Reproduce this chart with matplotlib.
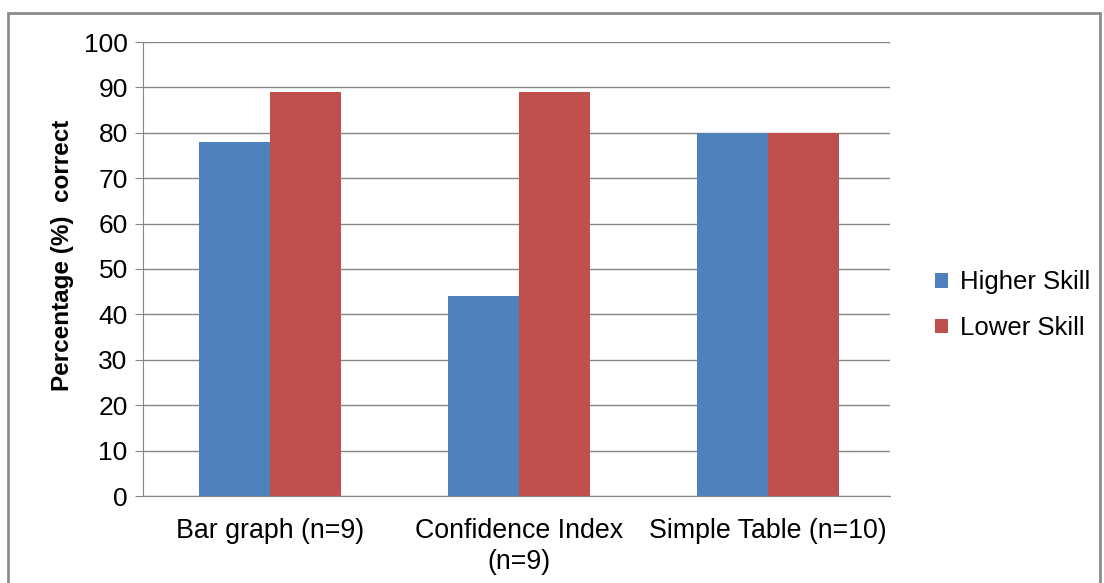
import numpy as np
import matplotlib.pyplot as plt
from matplotlib.patches import Rectangle

categories = ['Bar graph (n=9)', 'Confidence Index\n(n=9)', 'Simple Table (n=10)']
higher_skill = [78, 44, 80]
lower_skill = [89, 89, 80]
yticks = [0, 10, 20, 30, 40, 50, 60, 70, 80, 90, 100]

plt.rcParams['font.family'] = ['Liberation Sans', 'DejaVu Sans']

fig = plt.figure(figsize=(11.04, 5.83), dpi=100)
ax = fig.add_axes([143/1104, 1-496/583, (890-143)/1104, (496-42)/583])

# grey frame round the whole chart
fig.patches.append(Rectangle((8/1104, -0.05), (1100-8)/1104, 1-13/583+0.05,
                             transform=fig.transFigure, fill=False,
                             edgecolor='#8c8c8c', linewidth=2))

x = np.arange(len(categories))
w = 0.285
ax.bar(x - w/2, higher_skill, w, color='#4F81BD', label='Higher Skill', zorder=3)
ax.bar(x + w/2, lower_skill, w, color='#C0504D', label='Lower Skill', zorder=3)

ax.set_xlim(-0.51, 2.49)
ax.set_ylim(0, 100)
ax.set_yticks(yticks)
ax.yaxis.grid(True, color='#868686', linewidth=1, zorder=0)
ax.set_axisbelow(True)
for s in ['top', 'right']:
    ax.spines[s].set_visible(False)
ax.spines['left'].set_color('#868686')
ax.spines['bottom'].set_color('#868686')
ax.tick_params(axis='y', length=6, color='#868686', labelsize=19, pad=5)
ax.tick_params(axis='x', length=0, labelsize=19.3, pad=16)
ax.set_xticks(x)
ax.set_xticklabels(categories, linespacing=1.25)
ax.set_ylabel('Percentage (%)  correct', fontsize=17.5, fontweight='bold')
ax.yaxis.set_label_coords(-0.092, 0.531)

ax.legend(loc='center left', bbox_to_anchor=(1.029, 0.42), frameon=False, fontsize=18.5,
          handlelength=0.5, handleheight=0.5, handletextpad=0.5, labelspacing=0.85)

fig.savefig('out.png', dpi=100)
